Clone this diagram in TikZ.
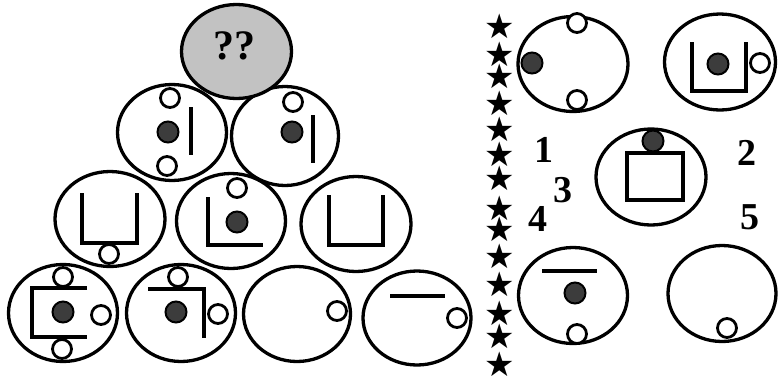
\documentclass[tikz,border=0pt]{standalone}
\usepackage{fontspec}
\setmainfont{Liberation Serif}
\newfontfamily\starfont{DejaVu Sans}
\usetikzlibrary{shapes.geometric}
\definecolor{dotgray}{HTML}{3C3C3C}
\definecolor{topgray}{HTML}{C2C2C2}
\begin{document}
\begin{tikzpicture}[x=1pt,y=-1pt,
  big/.style={ellipse, draw, line width=3.3pt, fill=white, minimum width=109pt, minimum height=95pt, inner sep=0pt},
  ring/.style={circle, draw, line width=2.8pt, fill=white, minimum size=19pt, inner sep=0pt},
  dot/.style={circle, draw, line width=2pt, fill=dotgray, minimum size=21pt, inner sep=0pt},
  bar/.style={line width=3.2pt},
  num/.style={font=\fontsize{38}{38}\selectfont\bfseries, inner sep=0pt},
  st/.style={font=\starfont\fontsize{34}{34}\selectfont, inner sep=0pt, anchor=base, yshift=-13pt}]
\useasboundingbox (0,0) rectangle (779,375);

% bottom row
\node[big, minimum height=97pt] (r4a) at (63,313) {};
\node[big, minimum height=97pt] (r4b) at (181,313) {};
\node[big, minimum width=107pt] (r4c) at (297,314) {};
\node[big, minimum width=108pt, minimum height=94pt] (r4d) at (417,318) {};
% third row
\node[big, minimum width=110pt] (r3a) at (110,219) {};
\node[big] (r3b) at (231,221) {};
\node[big, minimum width=110pt] (r3c) at (356,224) {};
% second row
\node[big, minimum height=96pt] (r2a) at (172,132.5) {};
\node[big, minimum width=107pt, minimum height=99pt] (r2b) at (285,136) {};
% top
\node[big, fill=topgray, minimum width=110pt, minimum height=94pt] (top) at (236.5,51.5) {};
\node[font=\fontsize{42}{42}\selectfont\bfseries, inner sep=0pt] (qq) at (234,46) {??};

% contents row 2
\draw[bar] (191,107) coordinate (b2a1) -- (191,155) coordinate (b2a2);
\node[ring] (r2a-t) at (170,98) {};
\node[ring] (r2a-b) at (167,166) {};
\node[dot] (r2a-d) at (168,132) {};
\draw[bar] (313,115) coordinate (b2b1) -- (313,163) coordinate (b2b2);
\node[ring] (r2b-t) at (293,102) {};
\node[dot] (r2b-d) at (292,132) {};

% contents row 3
\draw[bar] (82,193) -- (82,243) -- (137,243) -- (137,193);
\node[ring] (r3a-b) at (109,254) {};
\draw[bar] (208,197) -- (208,245) -- (263,245);
\node[ring] (r3b-t) at (237,188) {};
\node[dot] (r3b-d) at (237,222) {};
\draw[bar] (329,195) -- (329,245) -- (383,245) -- (383,195);

% contents row 4
\draw[bar] (87,288) -- (32,288) -- (32,337) -- (87,337);
\node[ring] (r4a-t) at (63,277) {};
\node[ring] (r4a-r) at (101,315) {};
\node[ring] (r4a-b) at (62,349) {};
\node[dot] (r4a-d) at (63,312) {};
\draw[bar] (148,289) -- (204,289) -- (204,338);
\node[ring] (r4b-t) at (178,277) {};
\node[ring] (r4b-r) at (218,314) {};
\node[dot] (r4b-d) at (176,312) {};
\node[ring] (r4c-r) at (337,311) {};
\draw[bar] (390,296) -- (445,296);
\node[ring] (r4d-r) at (457,318) {};

% stars
\foreach \yy [count=\i] in {25,53,75,102,128,153,177,207,228,255,283,312,335,363}
  \node[st] (star\i) at (500,\yy) {★};

% options
\node[big, minimum width=110pt] (oA) at (573,64) {};
\node[ring] (oA-t) at (577,23) {};
\node[ring] (oA-b) at (577,100) {};
\node[dot] (oA-d) at (532,63) {};

\node[big, minimum width=111pt, minimum height=96pt] (oB) at (720,62) {};
\draw[bar] (692,42) -- (692,91) -- (746,91) -- (746,42);
\node[dot] (oB-d) at (718,64) {};
\node[ring] (oB-r) at (760,63) {};

\node[big, minimum width=110pt, minimum height=96pt] (oC) at (651,177) {};
\draw[bar] (627,153) rectangle (683,200);
\node[dot] (oC-d) at (653,141) {};

\node[big, minimum height=96pt] (oD) at (573,295.5) {};
\draw[bar] (542,271) -- (597,271);
\node[dot] (oD-d) at (575,293) {};
\node[ring] (oD-b) at (577,334) {};

\node[big, minimum width=108pt, minimum height=96pt] (oE) at (722,293.5) {};
\node[ring] (oE-b) at (727,328) {};

% labels
\node[num] (n1) at (544,150) {1};
\node[num] (n2) at (747,153) {2};
\node[num] (n3) at (563,190) {3};
\node[num] (n4) at (538,219) {4};
\node[num] (n5) at (750,217) {5};
\end{tikzpicture}
\end{document}
